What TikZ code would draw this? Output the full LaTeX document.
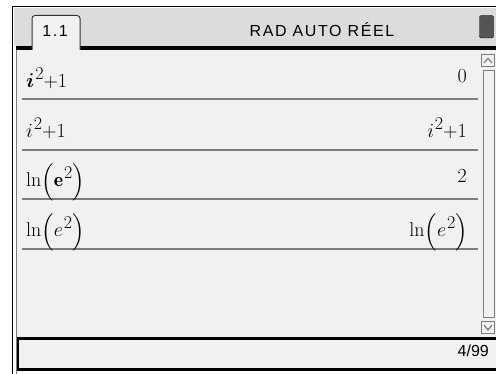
\RequirePackage{fix-cm}
\documentclass[tikz,border=0pt]{standalone}
\usepackage{amsmath}
\usepackage{fontspec}
\newfontfamily\tifont[LetterSpace=10]{Liberation Sans}
\newfontfamily\tinum{Liberation Sans}
\newcommand{\tisq}{\mbox{\kern1pt\raisebox{8pt}{\fontsize{18}{21}\selectfont 2}}}
\definecolor{headgray}{RGB}{220,220,220}
\definecolor{screen}{RGB}{240,241,240}
\definecolor{rulegray}{RGB}{125,125,125}
\definecolor{batt}{RGB}{85,85,85}
\tikzset{
    entry/.style={anchor=base west, inner sep=0pt, font=\fontsize{20}{24}\selectfont},
    result/.style={anchor=base east, inner sep=0pt, font=\fontsize{20}{24}\selectfont},
    hdr/.style={anchor=base, inner sep=0pt, font=\tifont\fontsize{16}{19}\selectfont},
    rowline/.style={draw=rulegray, line width=1.5pt},
    scrollbox/.style={draw=rulegray, line width=1pt, fill=screen}
}
\begin{document}
\begin{tikzpicture}[x=1pt, y=-1pt]
            \useasboundingbox (0,0) rectangle (496,374);
            \fill[white] (0,0) rectangle (496,374);
            \fill[headgray] (14,8) rectangle (496,46);
            \draw[line width=1.5pt] (12.5,374) -- (12.5,6.5) -- (496,6.5);
            \fill[screen] (16,50) rectangle (496,338);
            \draw[rulegray, line width=1pt] (16.5,50) -- (16.5,374);
            \fill (16,46) rectangle (32,50);
            \fill (80,46) rectangle (496,50);
            \filldraw[fill=screen, draw=black!80, line width=1pt, rounded corners=3pt] (32,50) -- (32,15.5) -- (80,15.5) -- (80,50);

            \node[hdr] (tabname) at (55,37) {1.1};
            \node[hdr] (mode) at (322,37) {RAD AUTO RÉEL};
            \filldraw[fill=batt, draw=black, rounded corners=2pt] (479.5,15.5) rectangle (493.5,38);

            \draw[rowline] (22,99) -- (478,99);
            \draw[rowline] (22,150) -- (478,150);
            \draw[rowline] (22,199) -- (478,199);
            \draw[rowline] (22,249) -- (478,249);

            \node[entry] (q1) at (26,88) {$\boldsymbol{i}\tisq{+}1$};
            \node[result] (a1) at (467,83) {$0$};
            \node[entry] (q2) at (26,138) {$i\tisq{+}1$};
            \node[result] (a2) at (467,138) {$i\tisq{+}1$};
            \node[entry] (q3) at (26,187) {$\ln\Bigl(\mathbf{e}\tisq\Bigr)$};
            \node[result] (a3) at (467,183) {$2$};
            \node[entry] (q4) at (26,237) {$\ln\Bigl(e\tisq\Bigr)$};
            \node[result] (a4) at (468,237) {$\ln\Bigl(e\tisq\Bigr)$};

            \draw[scrollbox] (481.5,54.5) rectangle (494.5,66.5);
            \draw[rulegray, line width=1.2pt] (484,63) -- (488,58.5) -- (492,63);
            \draw[scrollbox] (483.5,70.5) rectangle (494,318);
            \draw[scrollbox] (481.5,321.5) rectangle (494.5,334);
            \draw[rulegray, line width=1.2pt] (484,325) -- (488,330) -- (492,325);

            \fill[screen] (18,338) rectangle (496,370);
            \draw[line width=2.5pt] (496,338.5) -- (18,338.5) -- (18,369.5) -- (496,369.5);
            \node[anchor=base east, inner sep=0pt, font=\tinum\fontsize{16}{19}\selectfont] (count) at (489,357) {4/99};
        \end{tikzpicture}
\end{document}
